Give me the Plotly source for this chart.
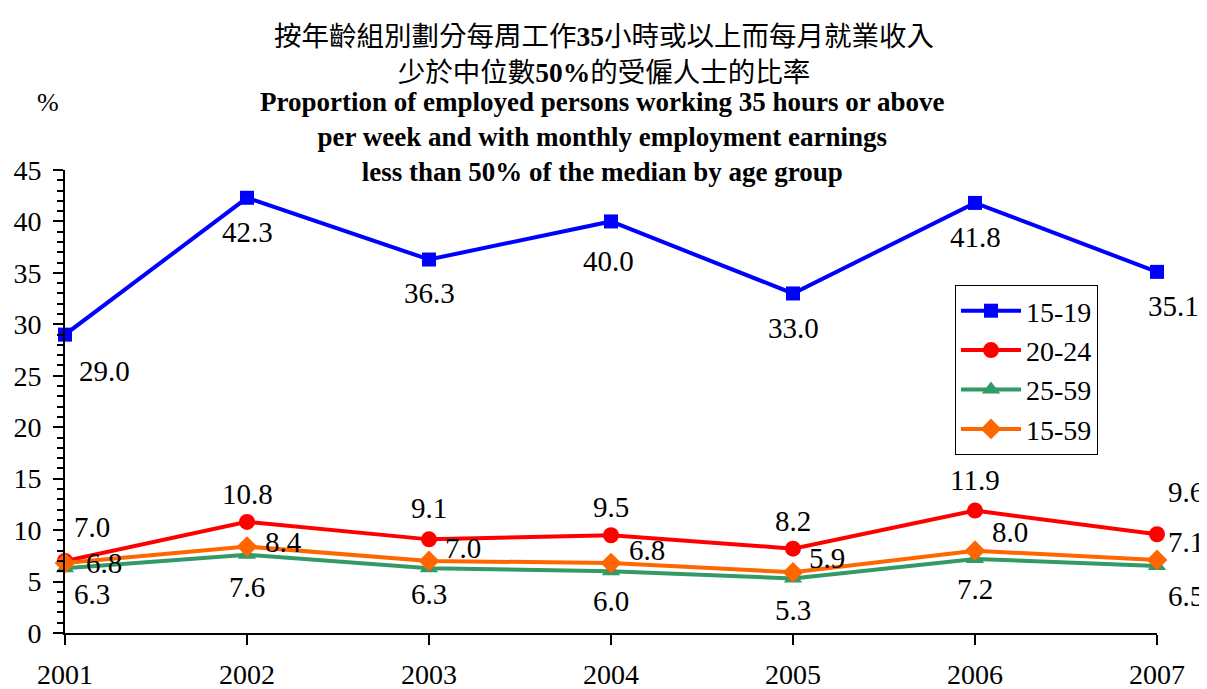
import plotly.graph_objects as go

years = [2001, 2002, 2003, 2004, 2005, 2006, 2007]
series_names = ["15-19", "20-24", "25-59", "15-59"]
v_15_19 = [29.0, 42.3, 36.3, 40.0, 33.0, 41.8, 35.1]
v_20_24 = [7.0, 10.8, 9.1, 9.5, 8.2, 11.9, 9.6]
v_25_59 = [6.3, 7.6, 6.3, 6.0, 5.3, 7.2, 6.5]
v_15_59 = [6.8, 8.4, 7.0, 6.8, 5.9, 8.0, 7.1]

serif = "Liberation Serif"
num_span = '<span style="font-family:Liberation Serif"><b>{}</b></span>'
title_zh = ["按年齡組別劃分每周工作" + num_span.format("35") + "小時或以上而每月就業收入",
            "少於中位數" + num_span.format("50%") + "的受僱人士的比率"]
title_en = ["Proportion of employed persons working 35 hours or above",
            "per week and with monthly employment earnings",
            "less than 50% of the median by age group"]

values = [v_15_19, v_20_24, v_25_59, v_15_59]
colors = ["#0000FF", "#FF0000", "#339966", "#FF6600"]
symbols = ["square", "circle", "triangle-up", "diamond"]
msizes = [14, 16, 16, 16]
# label pixel offsets (dx, dy in screen px, dy positive = down)
offsets = [
    [(39, 36), (0, 34), (0, 33), (-3, 40), (0, 35), (0, 34), (16, 34)],
    [(27, -34), (0, -28), (0, -31), (0, -28), (0, -28), (0, -31), (29, -42)],
    [(27, 26), (0, 32), (0, 26), (0, 30), (0, 32), (0, 30), (29, 30)],
    [(39, 0), (36, -5), (34, -13), (36, -13), (34, -14), (35, -19), (29, -18)],
]

fig = go.Figure()
for name, vals, c, s, ms in zip(series_names, values, colors, symbols, msizes):
    fig.add_trace(go.Scatter(
        x=years, y=vals, name=name, mode="lines+markers",
        line=dict(color=c, width=4),
        marker=dict(color=c, symbol=s, size=ms),
        cliponaxis=False,
    ))

annotations = []
for vals, offs in zip(values, offsets):
    for x, v, (dx, dy) in zip(years, vals, offs):
        annotations.append(dict(
            x=x, y=v, xref="x", yref="y", text=f"{v:.1f}", showarrow=False,
            xshift=dx, yshift=-dy, font=dict(family=serif, size=29, color="black"),
        ))

# page is rendered with an 8px body margin; positions below are page pixels
PAGE_OFF = 8
W, H = 1207 - PAGE_OFF, 689 - PAGE_OFF
L, R, T, B = 57, 50, 162, 56
pw, ph = W - L - R, H - T - B


def px_to_paper(x, y):
    return (x - PAGE_OFF - L) / pw, (H - B - (y - PAGE_OFF)) / ph


px, py = px_to_paper(604, 52)
annotations.append(dict(
    x=px, y=py, xref="paper", yref="paper", text="<br>".join(title_zh),
    xanchor="center", yanchor="middle", showarrow=False,
    font=dict(family="Noto Sans CJK TC", size=27.5, color="black"),
))
px, py = px_to_paper(602, 137)
annotations.append(dict(
    x=px, y=py, xref="paper", yref="paper",
    text="<br>".join(f"<b>{t}</b>" for t in title_en), xanchor="center",
    yanchor="middle", showarrow=False, font=dict(family=serif, size=27, color="black"),
))
px, py = px_to_paper(48, 103)
annotations.append(dict(x=px, y=py, xref="paper", yref="paper", text="%", xanchor="center",
                        yanchor="middle", showarrow=False,
                        font=dict(family=serif, size=26, color="black")))

lx, ly = px_to_paper(955, 285)
fig.update_layout(
    template="none",
    width=W, height=H,
    margin=dict(l=L, r=R, t=T, b=B, autoexpand=False),
    paper_bgcolor="white", plot_bgcolor="white",
    font=dict(family=serif, size=28, color="black"),
    showlegend=True,
    legend=dict(x=lx, y=ly, xanchor="left", yanchor="top",
                bordercolor="black", borderwidth=1, bgcolor="white",
                font=dict(family=serif, size=28), tracegroupgap=0,
                itemwidth=60),
    annotations=annotations,
    xaxis=dict(range=[2001, 2007], tickvals=years, ticktext=[str(y) for y in years],
               showline=True, linecolor="black", linewidth=2, ticks="outside",
               ticklen=10, tickwidth=2, tickcolor="black", showgrid=False,
               zeroline=False, ticklabelstandoff=5, automargin=False,
               tickfont=dict(family=serif, size=28)),
    yaxis=dict(range=[0, 45], dtick=5, showline=True, linecolor="black", linewidth=2,
               ticks="outside", ticklen=10, tickwidth=2, tickcolor="black",
               showgrid=False, zeroline=False, ticklabelstandoff=6, automargin=False,
               minor=dict(dtick=1, ticks="outside", ticklen=6, tickwidth=2,
                          tickcolor="black", showgrid=False),
               tickfont=dict(family=serif, size=28)),
)

fig.write_html("out.html")
